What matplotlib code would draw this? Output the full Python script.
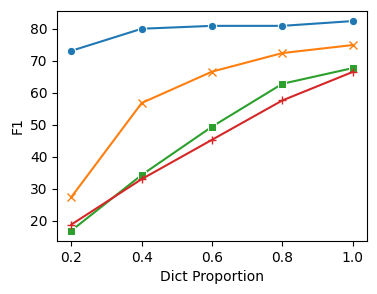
import numpy as np
import matplotlib
matplotlib.use("Agg")
import matplotlib.pyplot as plt

# dict proportion vs F1
prop = [0.2, 0.4, 0.6, 0.8, 1.0]
f1_a = [73.1, 80.0, 80.9, 80.9, 82.4]
f1_b = [27.4, 56.8, 66.6, 72.4, 74.9]
f1_c = [16.9, 34.3, 49.4, 62.8, 67.7]
f1_d = [18.8, 33.0, 45.3, 57.6, 66.5]

series = [f1_a, f1_b, f1_c, f1_d]
colors = ['#1f77b4', '#ff7f0e', '#2ca02c', '#d62728']
markers = ['o', 'x', 's', '+']

fig = plt.figure(figsize=(3.77, 2.94), dpi=100)
ax = fig.add_axes([0.152, 0.18, 0.821, 0.784])

for y, c, m in zip(series, colors, markers):
  if m in ('o', 's'):
    ax.plot(prop, y, color=c, marker=m, ms=6, mec='w', mew=0.75, lw=1.5)
  else:
    ax.plot(prop, y, color=c, marker=m, ms=6, mec=c, mew=1.0, lw=1.5)

ax.set_xticks(prop)
ax.set_yticks([20, 30, 40, 50, 60, 70, 80])
ax.set_xlabel("Dict Proportion")
ax.set_ylabel("F1")

plt.savefig('out.png')
